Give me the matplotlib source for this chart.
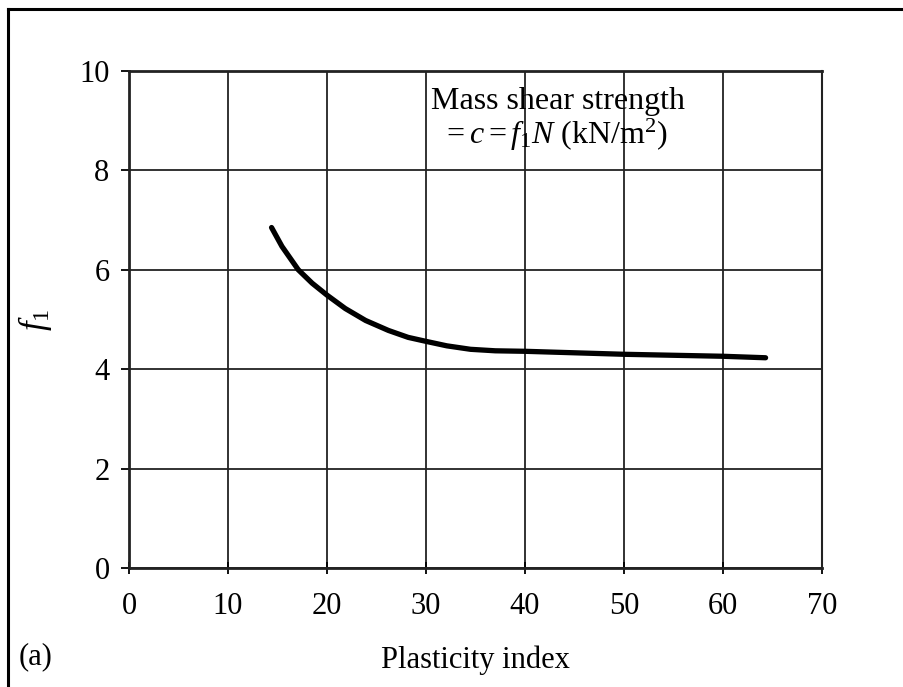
import matplotlib
matplotlib.use("Agg")
import matplotlib.pyplot as plt
from matplotlib.lines import Line2D

plt.rcParams['font.family'] = ['Liberation Serif', 'DejaVu Serif']
plt.rcParams['mathtext.fontset'] = 'custom'
plt.rcParams['mathtext.rm'] = 'Liberation Serif'
plt.rcParams['mathtext.it'] = 'Liberation Serif:italic'

# data
plasticity_index = [14.4, 15.45, 17.1, 18.5, 20, 21.85, 23.9, 26.2, 28.2, 30, 32.1, 34.5, 37, 40, 45, 50, 55, 60, 64.3]
f1_values = [6.85, 6.47, 6.0, 5.73, 5.49, 5.22, 4.98, 4.78, 4.64, 4.56, 4.47, 4.40, 4.37, 4.36, 4.33, 4.30, 4.28, 4.26, 4.23]
x_ticks = [0, 10, 20, 30, 40, 50, 60, 70]
y_ticks = [0, 2, 4, 6, 8, 10]

FS = 22

fig = plt.figure(figsize=(9.04, 6.87), dpi=100)
ax = fig.add_axes([0.1427, 0.1732, 0.9093 - 0.1427, 0.8967 - 0.1732])

ax.plot(plasticity_index, f1_values, color='black', lw=3.8,
        solid_capstyle='round', solid_joinstyle='round')

ax.set_xlim(0, 70)
ax.set_ylim(0, 10)
ax.set_xticks(x_ticks)
ax.set_yticks(y_ticks)
ax.grid(True, color='#222222', lw=1.3)
ax.set_axisbelow(True)
for s in ax.spines.values():
    s.set_linewidth(1.5)
    s.set_color('#222222')
ax.spines['left'].set_linewidth(2)
ax.spines['bottom'].set_linewidth(2)
ax.spines['top'].set_linewidth(2)
ax.tick_params(axis='y', direction='out', length=6, width=1.3, labelsize=FS, pad=8)
ax.tick_params(axis='x', direction='inout', length=8, width=1.3, labelsize=FS, pad=13)

ax.set_xlabel('Plasticity index', fontsize=FS, labelpad=18)
ax.set_ylabel(r'$f_1$', fontsize=25, labelpad=18)

ax.text(43.3, 9.38, 'Mass shear strength', fontsize=23, ha='center', va='center')
ax.text(43.0, 8.72, r'$= c = f_1N$ (kN/m$^2$)', fontsize=23, ha='center', va='center')

fig.text(19 / 904, 1 - 657 / 687, '(a)', fontsize=FS, ha='left', va='center')

# figure frame (top and left edges)
fig.add_artist(Line2D([8 / 904, 8 / 904], [0, 1 - 9 / 687], transform=fig.transFigure, color='black', lw=2.2))
fig.add_artist(Line2D([8 / 904, 1], [1 - 9 / 687, 1 - 9 / 687], transform=fig.transFigure, color='black', lw=2.2))

fig.savefig('out.png', dpi=100)
